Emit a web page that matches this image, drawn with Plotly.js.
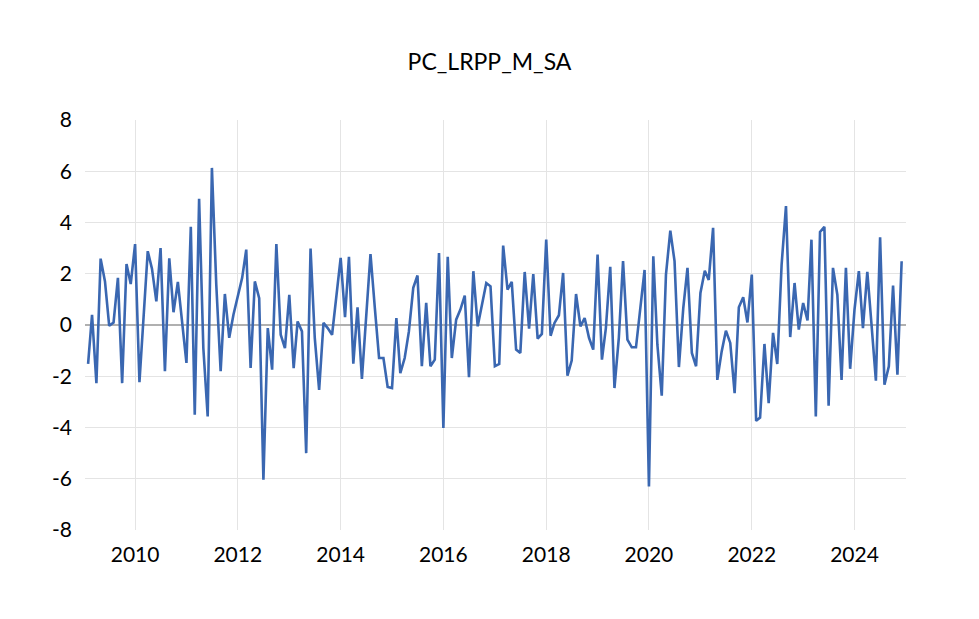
<!DOCTYPE html>
<html><head><meta charset="utf-8">
<script src="https://cdn.plot.ly/plotly-3.0.1.min.js"></script>
<style>html,body{margin:0;padding:0;background:#fff}</style>
</head><body><div id="chart" style="width:979px;height:619px"></div>
<script>
const seriesName = "PC_LRPP_M_SA";
const startYear = 2009, startMonth = 2;
const values = [
-1.52,0.40,-2.27,2.59,1.7,-0.03,0.1,1.84,-2.27,2.38,1.6,3.16,-2.23,0.4,2.88,2.2,0.92,3.0,-1.8,2.6,0.5,1.68,0.1,-1.48,3.83,
-3.5,4.93,-0.9,-3.57,6.13,1.57,-1.8,1.21,-0.5,0.4,1.18,1.84,2.94,-1.68,1.7,1.05,-6.04,-0.12,-1.74,3.16,-0.38,-0.9,1.18,-1.68,0.14,
-0.25,-5.0,2.98,-0.5,-2.53,0.08,-0.12,-0.38,1.05,2.62,0.31,2.66,-1.51,0.69,-2.1,0.27,2.77,0.66,-1.29,-1.29,-2.42,-2.46,0.27,-1.88,
-1.29,-0.25,1.45,1.93,-1.61,0.86,-1.61,-1.35,2.81,-4.02,2.66,-1.29,0.21,0.6,1.15,-2.04,2.1,-0.05,0.73,1.64,1.51,-1.61,-1.52,3.1,1.38,
1.68,-0.96,-1.09,2.07,-0.14,1.99,-0.53,-0.35,3.33,-0.42,0.08,0.38,2.03,-1.98,-1.39,1.21,-0.05,0.27,-0.5,-0.96,2.75,-1.35,-0.12,2.27,-2.46,
-0.5,2.49,-0.57,-0.87,-0.87,0.66,2.15,-6.3,2.68,-0.77,-2.76,1.97,3.68,2.49,-1.64,0.66,2.23,-1.09,-1.61,1.25,2.12,1.76,3.79,-2.14,
-1.03,-0.22,-0.7,-2.66,0.69,1.08,0.1,1.97,-3.74,-3.61,-0.74,-3.05,-0.31,-1.52,2.36,4.64,-0.47,1.64,-0.18,0.86,0.18,3.33,-3.57,3.63,3.83,
-3.15,2.23,1.18,-2.14,2.23,-1.71,0.6,2.1,-0.12,2.07,0.01,-2.17,3.42,-2.33,-1.61,1.54,-1.94,2.49
];
const yTicks = [-8,-6,-4,-2,0,2,4,6,8];
const xTickYears = [2010,2012,2014,2016,2018,2020,2022,2024];

const dates = values.map((v,i)=>{
  const m = startMonth - 1 + i;
  const y = startYear + Math.floor(m/12);
  const mm = (m%12)+1;
  return y + "-" + String(mm).padStart(2,"0") + "-01";
});
const font = {family:"Lato, 'Open Sans', sans-serif", color:"#000"};
Plotly.newPlot("chart",[{
  x:dates, y:values, type:"scatter", mode:"lines",
  line:{color:"#3a67b1", width:2.6}, hoverinfo:"x+y"
}],{
  width:979,height:619,
  paper_bgcolor:"#fff",plot_bgcolor:"#fff",
  margin:{l:85,r:73,t:120,b:89},
  title:{text:seriesName, x:0.5, xanchor:"center", y:0.9, yanchor:"middle", font:Object.assign({size:23},font)},
  showlegend:false,
  xaxis:{type:"date", range:["2009-01-10","2025-01-01"],
    tickvals:xTickYears.map(y=>y+"-01-01"), ticktext:xTickYears.map(String),
    showgrid:true, gridcolor:"#e4e4e4", gridwidth:1, zeroline:false, showline:false,
    ticks:"", ticklabelstandoff:10, tickfont:Object.assign({size:21},font)},
  yaxis:{range:[-8,8], tickvals:yTicks, ticktext:yTicks.map(String),
    showgrid:true, gridcolor:"#e4e4e4", gridwidth:1,
    zeroline:true, zerolinecolor:"#b0b0b0", zerolinewidth:1.5,
    showline:false, ticks:"", ticklabelstandoff:12, tickfont:Object.assign({size:21},font)}
},{displayModeBar:false,staticPlot:true});
</script></body></html>
